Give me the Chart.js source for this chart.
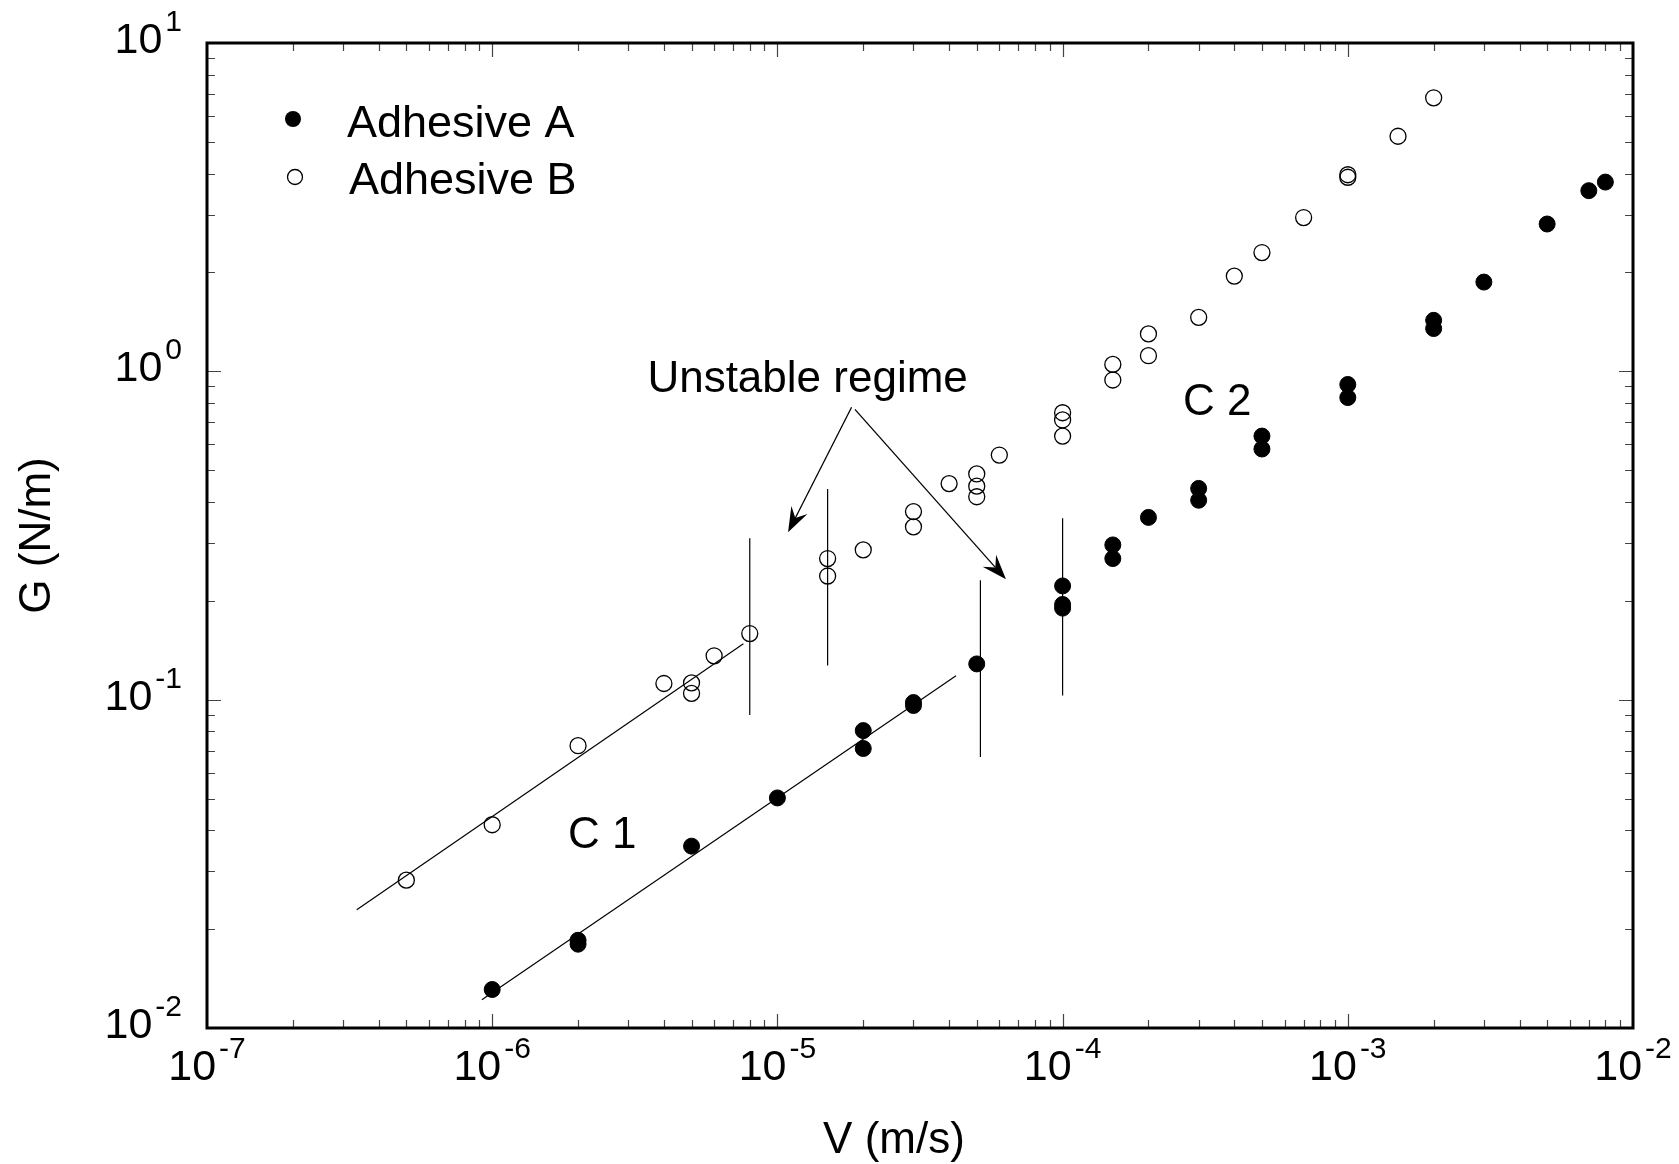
<!DOCTYPE html>
<html>
<head>
<meta charset="utf-8">
<title>G versus V</title>
<script src="https://cdn.jsdelivr.net/npm/chart.js@4.4.1/dist/chart.umd.min.js"></script>
<style>
  html, body { margin: 0; padding: 0; background: #fff; }
  #wrap { width: 1679px; height: 1164px; position: relative; }
</style>
</head>
<body>
<div id="wrap"><canvas id="chartG"></canvas></div>
<script>
// Adhesive A (filled circles)
var speedA  = [1e-6, 2e-6, 2e-6, 5e-6, 1e-5, 2e-5, 2e-5, 3e-5, 3e-5, 5e-5,
               1e-4, 1e-4, 1e-4, 1.5e-4, 1.5e-4, 2e-4, 3e-4, 3e-4, 5e-4, 5e-4,
               1e-3, 1e-3, 2e-3, 2e-3, 3e-3, 5e-3, 7e-3, 8e-3];
var energyA = [0.0131, 0.0185, 0.0180, 0.0358, 0.0502, 0.0805, 0.071, 0.098, 0.096, 0.1285,
               0.222, 0.195, 0.190, 0.296, 0.269, 0.359, 0.44, 0.405, 0.635, 0.58,
               0.912, 0.832, 1.43, 1.35, 1.87, 2.81, 3.55, 3.77];

// Adhesive B (open circles)
var speedB  = [5e-7, 1e-6, 2e-6, 4e-6, 5e-6, 5e-6, 6e-6, 8e-6, 1.5e-5, 1.5e-5,
               2e-5, 3e-5, 3e-5, 4e-5, 5e-5, 5e-5, 5e-5, 6e-5, 1e-4, 1e-4,
               1e-4, 1.5e-4, 1.5e-4, 2e-4, 2e-4, 3e-4, 4e-4, 5e-4, 7e-4, 1e-3,
               1e-3, 1.5e-3, 2e-3];
var energyB = [0.0282, 0.0416, 0.0724, 0.112, 0.1125, 0.1045, 0.136, 0.159, 0.269, 0.238,
               0.286, 0.374, 0.336, 0.455, 0.487, 0.447, 0.415, 0.556, 0.748, 0.711,
               0.635, 1.05, 0.941, 1.30, 1.116, 1.46, 1.95, 2.30, 2.94, 3.97,
               3.90, 5.2, 6.81];

// power law fits (two end points each)
var fitSpeedA  = [9.2e-7, 4.23e-5];
var fitEnergyA = [0.0122, 0.1183];
var fitSpeedB  = [3.35e-7, 7.6e-6];
var fitEnergyB = [0.0229, 0.148];

// vertical bars around the unstable regime
var barSpeed = [8e-6, 1.5e-5, 5.15e-5, 1e-4];
var barLow   = [0.0898, 0.127, 0.0669, 0.103];
var barHigh  = [0.31, 0.438, 0.231, 0.357];

// arrows from the label
var arrowFromV = [1.82e-5, 1.87e-5];
var arrowFromG = [0.777, 0.766];
var arrowToV   = [1.09e-5, 6.33e-5];
var arrowToG   = [0.3235, 0.2325];

// notes on the plot
var noteText  = ['Unstable regime', 'C 1', 'C 2'];
var noteV     = [1.276e-5, 1.845e-6, 2.643e-4];
var noteG     = [0.865, 0.0353, 0.736];
var noteAlign = ['center', 'left', 'left'];

var seriesNames = ['Adhesive A', 'Adhesive B'];
var xTickExp = [-7, -6, -5, -4, -3, -2];
var yTickExp = [-2, -1, 0, 1];
var minorSteps = [2, 3, 4, 5, 6, 7, 8, 9];
var xTitle = 'V (m/s)';
var yTitle = 'G (N/m)';

var FONT = '"Liberation Sans", Arial, Helvetica, sans-serif';

function toPoints(xs, ys) {
  var pts = [];
  for (var i = 0; i < xs.length; i++) pts.push({ x: xs[i], y: ys[i] });
  return pts;
}

function logTicks(exps) {
  var t = [];
  for (var i = 0; i < exps.length; i++) {
    var base = Math.pow(10, exps[i]);
    t.push({ value: base, major: true });
    if (i < exps.length - 1) {
      for (var j = 0; j < minorSteps.length; j++) {
        t.push({ value: minorSteps[j] * base, major: false });
      }
    }
  }
  return t;
}

var lineStyle = {
  showLine: true, pointRadius: 0, borderColor: '#000', borderWidth: 1.2,
  backgroundColor: '#000', fill: false
};

var datasets = [
  { label: seriesNames[0], data: toPoints(speedA, energyA), showLine: false,
    pointRadius: 8, pointBackgroundColor: '#000', pointBorderColor: '#000', pointBorderWidth: 1 },
  { label: seriesNames[1], data: toPoints(speedB, energyB), showLine: false,
    pointRadius: 8, pointBackgroundColor: 'rgba(0,0,0,0)', pointBorderColor: '#000', pointBorderWidth: 1.3 },
  Object.assign({ label: 'fitA', data: toPoints(fitSpeedA, fitEnergyA) }, lineStyle),
  Object.assign({ label: 'fitB', data: toPoints(fitSpeedB, fitEnergyB) }, lineStyle)
];
for (var b = 0; b < barSpeed.length; b++) {
  datasets.push(Object.assign({ label: 'bar' + b,
    data: [{ x: barSpeed[b], y: barLow[b] }, { x: barSpeed[b], y: barHigh[b] }] }, lineStyle));
}

function drawPow(ctx, exp, x, baseline, mode) {
  ctx.font = '43px ' + FONT;
  var wb = ctx.measureText('10').width;
  ctx.font = '30px ' + FONT;
  var we = ctx.measureText(String(exp)).width;
  var gap = 3;
  var total = wb + gap + we;
  var left = mode === 'x' ? x - total / 2 : x - total;
  ctx.textAlign = 'left';
  ctx.textBaseline = 'alphabetic';
  ctx.font = '43px ' + FONT;
  ctx.fillText('10', left, baseline);
  ctx.font = '30px ' + FONT;
  ctx.fillText(String(exp), left + wb + gap, baseline - 22);
}

function drawArrow(ctx, x0, y0, x1, y1) {
  var ang = Math.atan2(y1 - y0, x1 - x0);
  var L = 25, W = 9, N = 16;
  ctx.beginPath();
  ctx.moveTo(x0, y0);
  ctx.lineTo(x1 - Math.cos(ang) * N, y1 - Math.sin(ang) * N);
  ctx.stroke();
  ctx.save();
  ctx.translate(x1, y1);
  ctx.rotate(ang);
  ctx.beginPath();
  ctx.moveTo(0, 0);
  ctx.lineTo(-L, -W);
  ctx.lineTo(-N, 0);
  ctx.lineTo(-L, W);
  ctx.closePath();
  ctx.fill();
  ctx.restore();
}

var overlay = {
  id: 'overlay',
  afterDatasetsDraw: function (chart) {
    var ctx = chart.ctx, a = chart.chartArea;
    var xs = chart.scales.x, ys = chart.scales.y;
    ctx.save();
    ctx.fillStyle = '#000';

    // inward ticks on all four sides
    ctx.strokeStyle = '#444';
    ctx.lineWidth = 1.2;
    xs.ticks.forEach(function (t) {
      var px = Math.round(xs.getPixelForValue(t.value)) + 0.5;
      if (px <= a.left + 2 || px >= a.right - 2) return;
      var len = t.major ? 14 : 8;
      ctx.beginPath();
      ctx.moveTo(px, a.bottom); ctx.lineTo(px, a.bottom - len);
      ctx.moveTo(px, a.top); ctx.lineTo(px, a.top + len);
      ctx.stroke();
    });
    ys.ticks.forEach(function (t) {
      var py = Math.round(ys.getPixelForValue(t.value)) + 0.5;
      if (py <= a.top + 2 || py >= a.bottom - 2) return;
      var len = t.major ? 14 : 8;
      ctx.beginPath();
      ctx.moveTo(a.left, py); ctx.lineTo(a.left + len, py);
      ctx.moveTo(a.right, py); ctx.lineTo(a.right - len, py);
      ctx.stroke();
    });

    // frame
    ctx.strokeStyle = '#000';
    ctx.lineWidth = 3;
    ctx.strokeRect(a.left, a.top, a.right - a.left, a.bottom - a.top);

    // tick labels
    xTickExp.forEach(function (e) {
      drawPow(ctx, e, xs.getPixelForValue(Math.pow(10, e)), a.bottom + 52, 'x');
    });
    yTickExp.forEach(function (e) {
      drawPow(ctx, e, a.left - 25, ys.getPixelForValue(Math.pow(10, e)) + 10, 'y');
    });

    // axis titles
    ctx.font = '44px ' + FONT;
    ctx.textAlign = 'center';
    ctx.textBaseline = 'alphabetic';
    ctx.fillText(xTitle, 894, 1153);
    ctx.save();
    ctx.translate(50, (a.top + a.bottom) / 2);
    ctx.rotate(-Math.PI / 2);
    ctx.fillText(yTitle, 0, 0);
    ctx.restore();

    // notes
    for (var i = 0; i < noteText.length; i++) {
      ctx.textAlign = noteAlign[i];
      ctx.fillText(noteText[i], xs.getPixelForValue(noteV[i]), ys.getPixelForValue(noteG[i]));
    }

    // arrows
    ctx.strokeStyle = '#000';
    ctx.lineWidth = 1.3;
    for (var k = 0; k < arrowFromV.length; k++) {
      drawArrow(ctx,
        xs.getPixelForValue(arrowFromV[k]), ys.getPixelForValue(arrowFromG[k]),
        xs.getPixelForValue(arrowToV[k]), ys.getPixelForValue(arrowToG[k]));
    }

    // legend
    var lx = a.left + 86, ly = a.top + 76;
    ctx.beginPath();
    ctx.arc(lx, ly, 8, 0, Math.PI * 2);
    ctx.fill();
    ctx.beginPath();
    ctx.lineWidth = 1.3;
    ctx.arc(lx + 2, ly + 58, 7.5, 0, Math.PI * 2);
    ctx.stroke();
    ctx.font = '45px ' + FONT;
    ctx.textAlign = 'left';
    ctx.fillText(chart.data.datasets[0].label, lx + 54, ly + 18);
    ctx.fillText(chart.data.datasets[1].label, lx + 56, ly + 75);

    ctx.restore();
  }
};

new Chart(document.getElementById('chartG'), {
  type: 'scatter',
  data: { datasets: datasets },
  options: {
    responsive: true,
    maintainAspectRatio: false,
    devicePixelRatio: 1,
    animation: false,
    events: [],
    layout: { padding: { left: 0, top: 43, right: 46, bottom: 0 } },
    plugins: { legend: { display: false }, tooltip: { enabled: false } },
    scales: {
      x: {
        type: 'logarithmic', min: 1e-7, max: 1e-2,
        grid: { display: false }, border: { display: false },
        ticks: { display: false },
        afterBuildTicks: function (s) { s.ticks = logTicks(xTickExp); },
        afterFit: function (s) { s.height = 136; }
      },
      y: {
        type: 'logarithmic', min: 1e-2, max: 10,
        grid: { display: false }, border: { display: false },
        ticks: { display: false },
        afterBuildTicks: function (s) { s.ticks = logTicks(yTickExp); },
        afterFit: function (s) { s.width = 207; }
      }
    }
  },
  plugins: [overlay]
});
</script>
</body>
</html>
